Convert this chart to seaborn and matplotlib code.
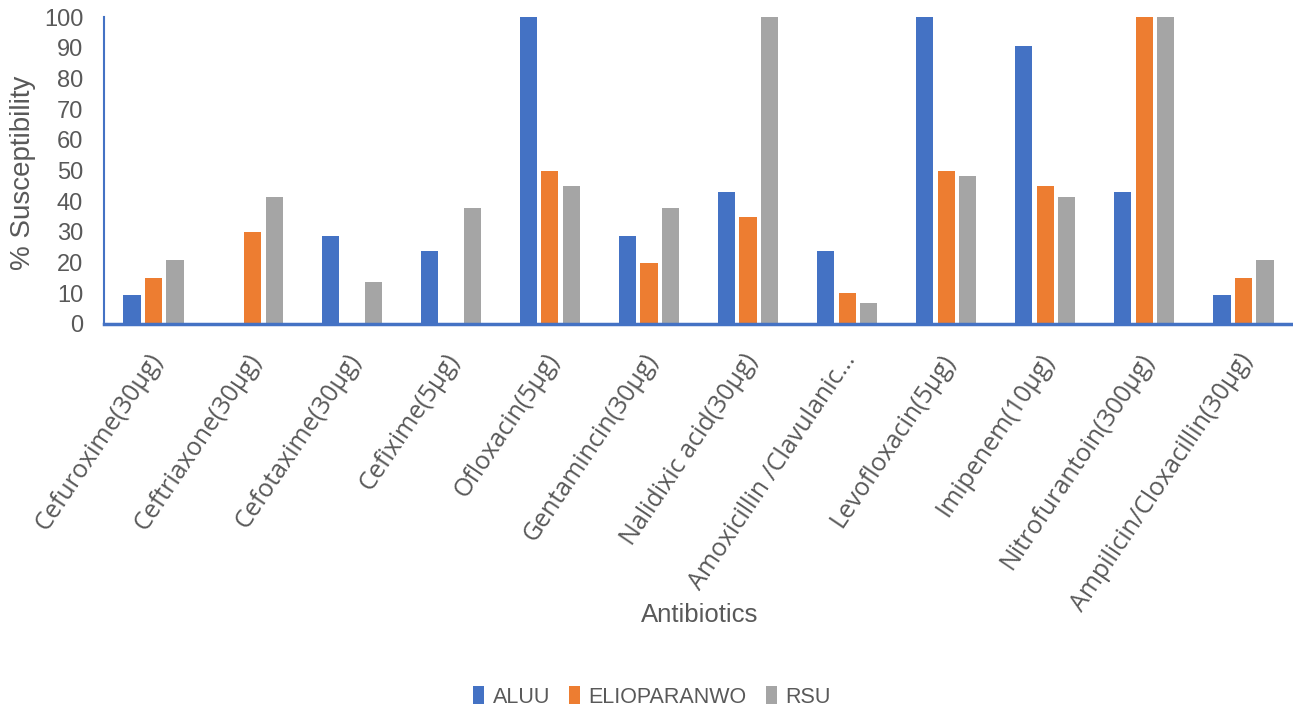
import matplotlib
matplotlib.use("Agg")
import matplotlib.pyplot as plt
import matplotlib.transforms as mtransforms
import pandas as pd
import seaborn as sns

antibiotics = [
    "Cefuroxime(30µg)", "Ceftriaxone(30µg)", "Cefotaxime(30µg)", "Cefixime(5µg)",
    "Ofloxacin(5µg)", "Gentamincin(30µg)", "Nalidixic acid(30µg)",
    "Amoxicillin /Clavulanic...", "Levofloxacin(5µg)", "Imipenem(10µg)",
    "Nitrofurantoin(300µg)", "Ampilicin/Cloxacillin(30µg)",
]
sites = ["ALUU", "ELIOPARANWO", "RSU"]
aluu = [9.5, 0, 28.6, 23.8, 100, 28.6, 42.9, 23.8, 100, 90.5, 42.9, 9.5]
elioparanwo = [15, 30, 0, 0, 50, 20, 35, 10, 50, 45, 100, 15]
rsu = [20.7, 41.4, 13.8, 37.9, 44.8, 37.9, 100, 6.9, 48.3, 41.4, 100, 20.7]
y_ticks = list(range(0, 101, 10))

colors = ["#4472C4", "#ED7D31", "#A5A5A5"]
text_color = "#595959"
axis_color = "#4472C4"

sns.set_theme(style="white")
plt.rcParams["font.family"] = ["Liberation Sans", "DejaVu Sans"]

df = pd.DataFrame({
    "Antibiotic": antibiotics * 3,
    "Site": [s for s in sites for _ in antibiotics],
    "Susceptibility": aluu + elioparanwo + rsu,
})

fig = plt.figure(figsize=(12.93, 7.11), dpi=100)
ax = fig.add_axes([104 / 1293, 1 - 324 / 711, 1 - 104 / 1293, (324 - 17) / 711])

sns.barplot(
    data=df, x="Antibiotic", y="Susceptibility", hue="Site",
    order=antibiotics, hue_order=sites, palette=colors,
    saturation=1, width=0.65, gap=0.2, linewidth=0, ax=ax, legend=True,
)

ax.set_ylim(0, 100)
ax.set_xlim(-0.5, len(antibiotics) - 0.5)
ax.set_yticks(y_ticks)
ax.set_yticklabels([str(t) for t in y_ticks], fontsize=17, color=text_color)
ax.tick_params(axis="y", length=0, pad=15)
ax.tick_params(axis="x", length=0, pad=23)

ax.set_xticks(range(len(antibiotics)))
ax.set_xticklabels(antibiotics, rotation=56, ha="right", va="center",
                   rotation_mode="anchor", fontsize=18, color=text_color,
                   family=["Open Sans", "DejaVu Sans"])
shift = mtransforms.ScaledTranslation(4 / 100, 0, fig.dpi_scale_trans)
for lbl in ax.get_xticklabels():
    lbl.set_transform(lbl.get_transform() + shift)

for side in ["top", "right"]:
    ax.spines[side].set_visible(False)
ax.spines["left"].set_color(axis_color)
ax.spines["left"].set_linewidth(1.5)
ax.spines["bottom"].set_color(axis_color)
ax.spines["bottom"].set_linewidth(2.5)

ax.set_xlabel("")
ax.set_ylabel("% Susceptibility", fontsize=20, color=text_color)
ax.yaxis.set_label_coords(-68 / 1189, (324 - 173) / 307)

fig.text(700 / 1293, 1 - 615 / 711, "Antibiotics", fontsize=18.5, color=text_color,
         ha="center", va="center")

handles, labels = ax.get_legend_handles_labels()
ax.get_legend().remove()
fig.legend(handles, labels, loc="center", bbox_to_anchor=(652 / 1293, 1 - 697 / 711),
           ncol=3, frameon=False, fontsize=15.5, labelcolor=text_color,
           handlelength=0.5, handleheight=0.9, handletextpad=0.4,
           columnspacing=0.9)

fig.savefig("out.png", dpi=100)
